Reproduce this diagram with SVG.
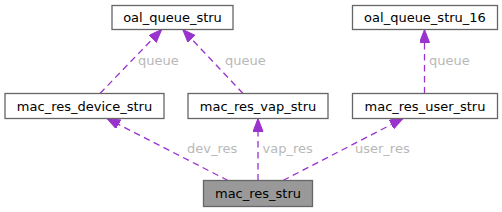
<svg xmlns="http://www.w3.org/2000/svg" width="502" height="212" viewBox="0 0 502 212">
<style>
.box{fill:#ffffff;stroke:#666666;stroke-width:1.3}
.main{fill:#999999;stroke:#666666;stroke-width:1.3}
.t{font-family:"DejaVu Sans",sans-serif;font-size:13px;fill:#000000;text-anchor:middle}
.lbl{font-family:"DejaVu Sans",sans-serif;font-size:13px;fill:#b8b8b8}
.e{fill:none;stroke:#9a32cd;stroke-width:1.3;stroke-dasharray:6.5,4.5;marker-end:url(#ah)}
</style>
<defs>
<marker id="ah" markerUnits="userSpaceOnUse" markerWidth="14" markerHeight="11" refX="13" refY="5" orient="auto">
<path d="M0,0 L13,5 L0,10 Z" fill="#9a32cd" stroke="#9a32cd" stroke-width="1"/>
</marker>
</defs>
<rect width="502" height="212" fill="#ffffff"/>
<g id="connectors">
<line class="e" x1="100" y1="93.5" x2="161.7" y2="29.5"/>
<line class="e" x1="243" y1="93.5" x2="182.7" y2="29.5"/>
<line class="e" x1="424.5" y1="93.5" x2="424.5" y2="29.5"/>
<line class="e" x1="228" y1="180.5" x2="107" y2="118.5"/>
<line class="e" x1="258" y1="180.5" x2="258" y2="118.5"/>
<line class="e" x1="283" y1="180.5" x2="403" y2="118.5"/>
<text class="lbl" x="138" y="65">queue</text>
<text class="lbl" x="225" y="65">queue</text>
<text class="lbl" x="429" y="65">queue</text>
<text class="lbl" x="187" y="153">dev_res</text>
<text class="lbl" x="262.5" y="153">vap_res</text>
<text class="lbl" x="355" y="153">user_res</text>
</g>
<g id="oal_queue_stru">
<rect class="box" x="112" y="5.5" width="121" height="24"/>
<text class="t" x="172.5" y="22">oal_queue_stru</text>
</g>
<g id="oal_queue_stru_16">
<rect class="box" x="352.5" y="5.5" width="145" height="24"/>
<text class="t" x="425" y="22">oal_queue_stru_16</text>
</g>
<g id="mac_res_device_stru">
<rect class="box" x="5" y="93.5" width="159" height="25"/>
<text class="t" x="84.5" y="110.5">mac_res_device_stru</text>
</g>
<g id="mac_res_vap_stru">
<rect class="box" x="188" y="93.5" width="140" height="25"/>
<text class="t" x="258" y="110.5">mac_res_vap_stru</text>
</g>
<g id="mac_res_user_stru">
<rect class="box" x="352.5" y="93.5" width="145" height="25"/>
<text class="t" x="425" y="110.5">mac_res_user_stru</text>
</g>
<g id="mac_res_stru">
<rect class="main" x="203.5" y="180.5" width="109" height="26"/>
<text class="t" x="258" y="197.5">mac_res_stru</text>
</g>
</svg>
